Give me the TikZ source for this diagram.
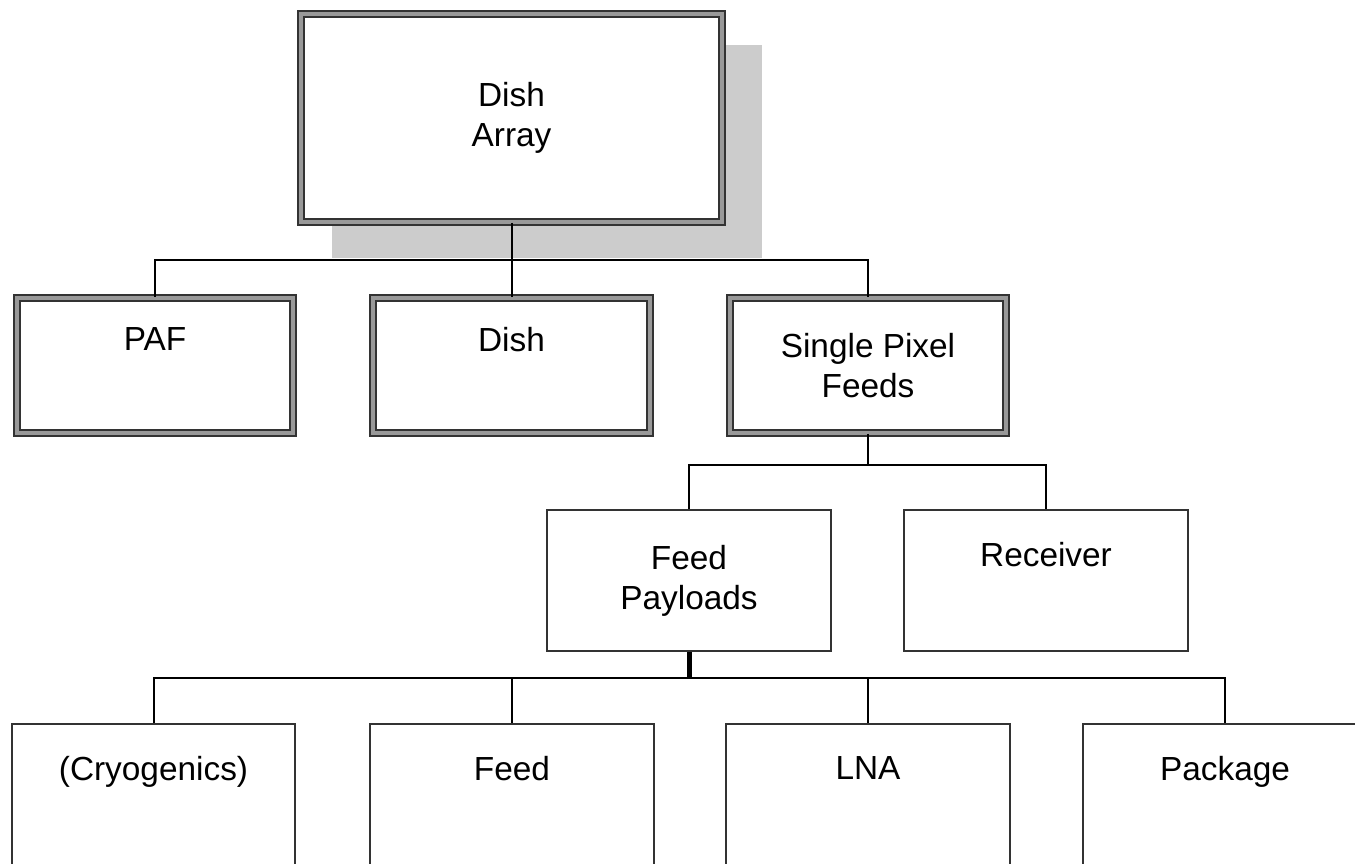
\documentclass[tikz,border=0pt]{standalone}
\usepackage{fontspec}
\setmainfont{Liberation Sans}
\usetikzlibrary{positioning}

\begin{document}
\begin{tikzpicture}[
  x=0.02cm, y=-0.02cm,
  every node/.style={font=\fontsize{19}{22.8}\selectfont, align=center},
  framed/.style={rectangle, draw=black!80, line width=0.04cm, double=black!40, double distance=0.08cm, fill=white, minimum width=5.54cm, minimum height=2.7cm, inner sep=0pt},
  plain/.style={rectangle, draw=black!80, line width=0.04cm, fill=white, minimum width=5.68cm, minimum height=2.82cm, inner sep=0pt},
  shadowrect/.style={rectangle, fill=black!20, inner sep=0pt},
  link/.style={draw=black, line width=0.04cm}
]
\useasboundingbox (0,0) rectangle (1355,863);

% top level
\node[shadowrect, minimum width=8.6cm, minimum height=4.26cm] (shadow) at (547,151.5) {};
\node[framed, minimum width=8.42cm, minimum height=4.16cm] (array) at (511.5,118) {Dish\\Array};

% second level
\node[framed] (paf) at (155,365.5) {PAF\\\strut};
\node[framed] (dish) at (511.5,365.5) {Dish\\\strut};
\node[framed] (spf) at (868,365.5) {Single Pixel\\Feeds};

% third level
\node[plain] (payloads) at (689,580.5) {Feed\\Payloads};
\node[plain] (receiver) at (1046,580.5) {Receiver\\\strut};

% fourth level
\node[plain] (cryo) at (153.5,794.5) {(Cryogenics)\\\strut};
\node[plain] (feed) at (512,794.5) {Feed\\\strut};
\node[plain] (lna) at (868,794.5) {LNA\\\strut};
\node[plain] (package) at (1225,794.5) {Package\\\strut};

\coordinate (bus1) at (511.5,260);
\coordinate (bus2) at (868,465);
\coordinate (bus3) at (689,678);

\draw[link] (array.south) -- (bus1);
\draw[link] (bus1) -| (paf.north);
\draw[link] (bus1) -| (dish.north);
\draw[link] (bus1) -| (spf.north);

\draw[link] (spf.south) -- (bus2);
\draw[link] (bus2) -| (payloads.north);
\draw[link] (bus2) -| (receiver.north);

\draw[link, line width=0.1cm] (payloads.south) -- (bus3);
\draw[link] (bus3) -| (cryo.north);
\draw[link] (bus3) -| (feed.north);
\draw[link] (bus3) -| (lna.north);
\draw[link] (bus3) -| (package.north);

\end{tikzpicture}
\end{document}
